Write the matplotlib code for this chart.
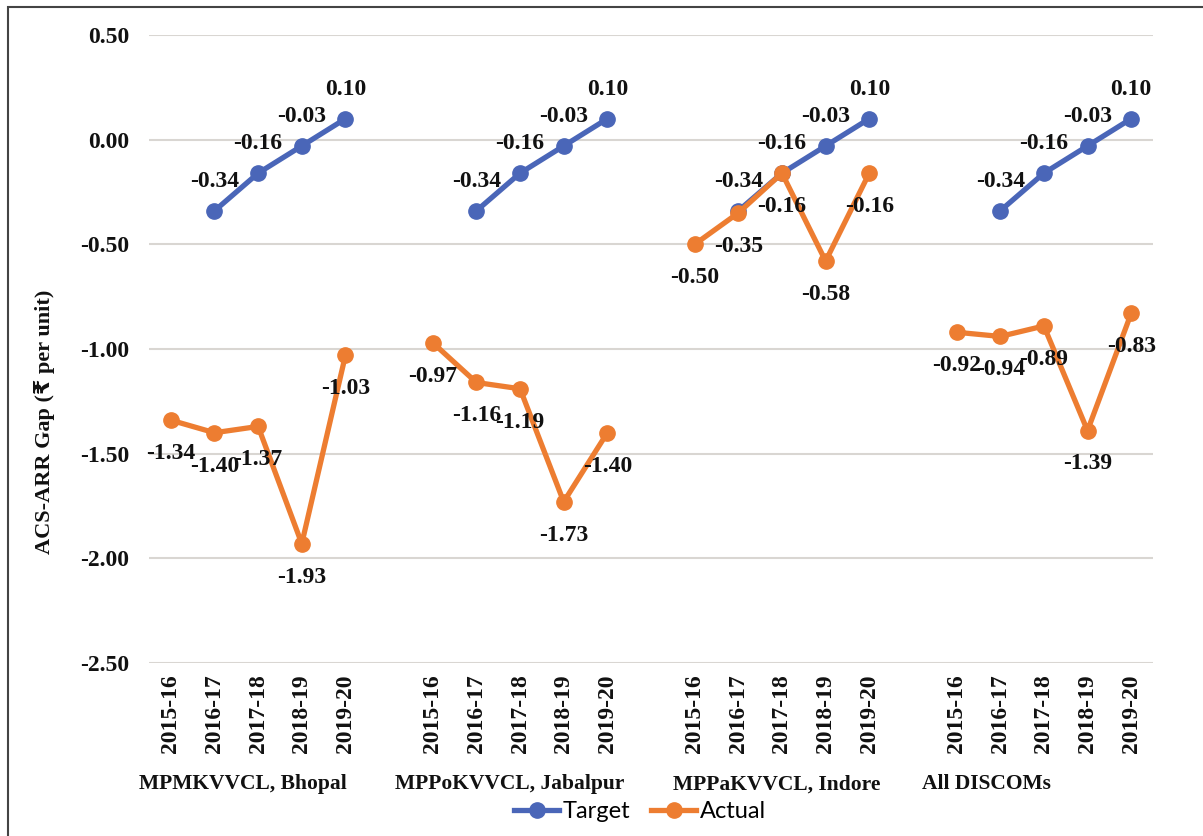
import numpy as np
import matplotlib
matplotlib.use("Agg")
import matplotlib.pyplot as plt
from matplotlib.patches import Rectangle
from matplotlib.lines import Line2D

groups = ["MPMKVVCL, Bhopal", "MPPoKVVCL, Jabalpur", "MPPaKVVCL, Indore", "All DISCOMs"]
years = ["2015-16", "2016-17", "2017-18", "2018-19", "2019-20"]

target = {
    "MPMKVVCL, Bhopal": [np.nan, -0.34, -0.16, -0.03, 0.10],
    "MPPoKVVCL, Jabalpur": [np.nan, -0.34, -0.16, -0.03, 0.10],
    "MPPaKVVCL, Indore": [np.nan, -0.34, -0.16, -0.03, 0.10],
    "All DISCOMs": [np.nan, -0.34, -0.16, -0.03, 0.10],
}
actual = {
    "MPMKVVCL, Bhopal": [-1.34, -1.40, -1.37, -1.93, -1.03],
    "MPPoKVVCL, Jabalpur": [-0.97, -1.16, -1.19, -1.73, -1.40],
    "MPPaKVVCL, Indore": [-0.50, -0.35, -0.16, -0.58, -0.16],
    "All DISCOMs": [-0.92, -0.94, -0.89, -1.39, -0.83],
}
yticks = [0.50, 0.00, -0.50, -1.00, -1.50, -2.00, -2.50]
group_label_x = [1.65, 7.77, 13.89, 18.68]

serif = ["Liberation Serif", "DejaVu Serif"]
BLUE = "#4a66b8"
ORANGE = "#ed7d31"

fig = plt.figure(figsize=(12.03, 8.36), dpi=100)
ax = fig.add_axes([149/1203, 1-663/836, 1004/1203, 628/836])

xpos_all = []
xlab_all = []
for gi, g in enumerate(groups):
    xs = np.arange(5) + gi * 6
    xpos_all.extend(xs)
    xlab_all.extend(years)
    t = np.array(target[g], dtype=float)
    a = np.array(actual[g], dtype=float)
    ax.plot(xs, t, color=BLUE, lw=3.8, marker="o", ms=11, zorder=3)
    ax.plot(xs, a, color=ORANGE, lw=3.8, marker="o", ms=11, zorder=4)
    for x, v in zip(xs, t):
        if not np.isnan(v):
            ax.annotate(f"{v:.2f}", (x, v), xytext=(0, 21), textcoords="offset points",
                        ha="center", va="center", fontsize=17, fontweight="bold",
                        family=serif, color="#111111", zorder=6)
    for x, v in zip(xs, a):
        ax.annotate(f"{v:.2f}", (x, v), xytext=(0, -24), textcoords="offset points",
                    ha="center", va="center", fontsize=17, fontweight="bold",
                    family=serif, color="#111111", zorder=6)

ax.set_xlim(-0.5, 22.5)
ax.set_ylim(-2.5, 0.5)
ax.set_yticks(yticks)
ax.set_yticklabels([f"{v:.2f}" for v in yticks], fontsize=17, fontweight="bold", family=serif)
ax.set_xticks(xpos_all)
ax.set_xticklabels(xlab_all, rotation=90, fontsize=17, fontweight="bold", family=serif)
ax.tick_params(axis="both", length=0, colors="#111111")
ax.tick_params(axis="y", pad=14)
ax.tick_params(axis="x", pad=8)
for s in ax.spines.values():
    s.set_visible(False)
ax.grid(axis="y", color="#d9d6d2", lw=1.5)
ax.set_axisbelow(True)

for x, g in zip(group_label_x, groups):
    ax.text(x, -0.193, g, transform=ax.get_xaxis_transform(), ha="center", va="center",
            fontsize=15.5, fontweight="bold", family=serif, color="#111111")

fig.text(45/1203, 1-422/836, "ACS-ARR Gap (\u20b9 per unit)", rotation=90, ha="center", va="center",
         fontsize=16, fontweight="bold", family=["Liberation Serif", "DejaVu Sans"], color="#111111")

handles = [Line2D([], [], color=BLUE, lw=3.8, marker="o", ms=11),
           Line2D([], [], color=ORANGE, lw=3.8, marker="o", ms=11)]
fig.legend(handles, ["Target", "Actual"], loc="center", bbox_to_anchor=(640/1203, 1-812/836),
           ncol=2, frameon=False, prop={"family": ["Lato", "DejaVu Sans"], "size": 17},
           handlelength=1.9, handletextpad=0.15, columnspacing=0.9)

fig.patches.append(Rectangle((8/1203, -0.1), 2, 1.1 - 7/836, transform=fig.transFigure,
                             fill=False, edgecolor="#444444", lw=1.5))

fig.savefig("out.png", dpi=100, facecolor="white")
